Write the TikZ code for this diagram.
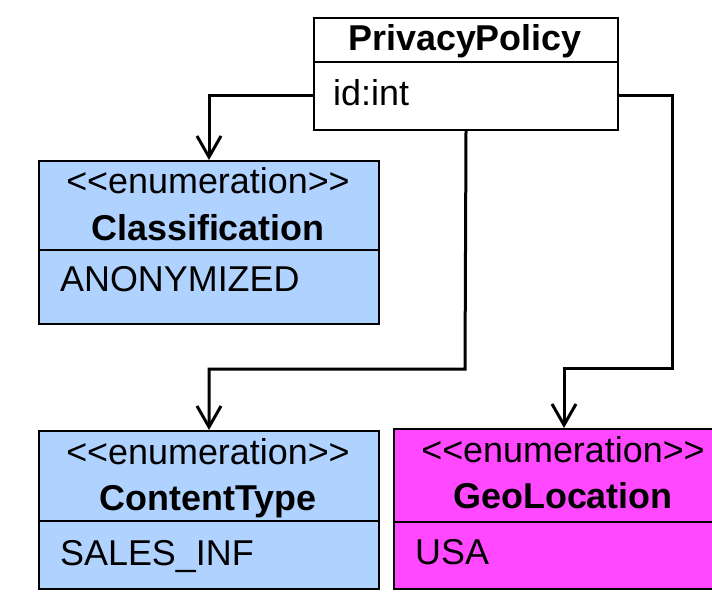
\documentclass[tikz,border=0pt]{standalone}
\usepackage{fontspec}
\newfontfamily\umlfont{Liberation Sans}
\usetikzlibrary{arrows.meta}
\definecolor{enumblue}{RGB}{175,210,255}
\definecolor{enummag}{RGB}{255,72,255}
\tikzset{
  compart/.style={draw=black, line width=2bp, rectangle, inner sep=0pt,
    anchor=north west, minimum width=#1},
  compart/.default=340bp,
  txt/.style={inner sep=0pt, anchor=base, font=\umlfont\fontsize{35.9bp}{40bp}\selectfont},
  txtbold/.style={txt, font=\umlfont\fontsize{35.9bp}{40bp}\selectfont\bfseries},
  txtleft/.style={txt, anchor=base west},
  assoc/.style={line width=3bp, line join=miter,
    -{Straight Barb[length=21bp,width=24bp]}}
}
\begin{document}
\begin{tikzpicture}[x=1bp,y=-1bp]
\useasboundingbox (0,0) rectangle (712,592);
\clip (0,0) rectangle (712,592);

% PrivacyPolicy class
\node[compart=304bp, fill=white, minimum height=44bp] (pph) at (313,17) {};
\node[compart=304bp, fill=white, minimum height=68bp] (ppb) at (313,61) {};
\node[txtbold] (ppname) at (465,51) {PrivacyPolicy};
\node[txtleft] (ppattr) at (333,106) {id:int};

% Classification enumeration
\node[compart, fill=enumblue, minimum height=89bp] (clh) at (38,160) {};
\node[compart, fill=enumblue, minimum height=74bp] (clb) at (38,249) {};
\node[txt] (clst) at (208,194) {<<enumeration>>};
\node[txtbold] (clname) at (208,240) {Classification};
\node[txtleft] (cllit) at (60,291) {ANONYMIZED};

% ContentType enumeration
\node[compart, fill=enumblue, minimum height=90bp] (cth) at (38,430) {};
\node[compart, fill=enumblue, minimum height=68bp] (ctb) at (38,520) {};
\node[txt] (ctst) at (208,464) {<<enumeration>>};
\node[txtbold] (ctname) at (208,510) {ContentType};
\node[txtleft] (ctlit) at (60,565) {SALES\_INF};

% GeoLocation enumeration
\node[compart, fill=enummag, minimum height=93bp] (glh) at (393,428) {};
\node[compart, fill=enummag, minimum height=67bp] (glb) at (393,521) {};
\node[txt] (glst) at (563,462) {<<enumeration>>};
\node[txtbold] (glname) at (563,508) {GeoLocation};
\node[txtleft] (gllit) at (415,564) {USA};

% associations
\coordinate (mbend) at (465,369);
\coordinate (rbend) at (672,368);
\draw[assoc] (ppb.west) -| (clh.north);
\draw[assoc] (ppb.south) -- (mbend) -| (cth.north);
\draw[assoc] (ppb.east) -| (rbend) -| (glh.north);
\end{tikzpicture}
\end{document}
